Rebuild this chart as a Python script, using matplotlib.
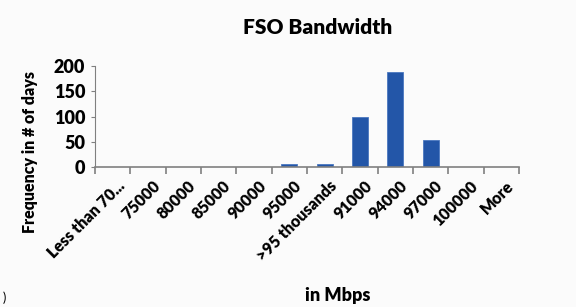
import matplotlib
matplotlib.use("Agg")
import matplotlib.pyplot as plt
from matplotlib.transforms import ScaledTranslation

categories = ["Less than 70...", "75000", "80000", "85000", "90000", "95000",
              ">95 thousands", "91000", "94000", "97000", "100000", "More"]
frequency = [0, 0, 0, 0, 0, 5, 5, 99, 188, 53, 0, 0]

plt.rcParams["font.family"] = ["Lato", "DejaVu Sans"]
plt.rcParams["font.weight"] = "heavy"

fig = plt.figure(figsize=(5.76, 3.07), dpi=100, facecolor="#fbfbfb")
ax = fig.add_axes([95 / 576, 1 - 167 / 307, (519 - 95) / 576, (167 - 66) / 307])
ax.set_facecolor("#fbfbfb")

x = list(range(len(categories)))
ax.bar(x, frequency, width=0.45, color="#2356a8", edgecolor="#4a78c0", linewidth=0.6)

ax.set_xlim(-0.5, len(categories) - 0.5)
ax.set_ylim(0, 200)
ax.set_yticks([0, 50, 100, 150, 200])
ax.tick_params(axis="y", labelsize=13, length=3, color="#808080", pad=4)
ax.set_xticks([i - 0.5 for i in range(len(categories) + 1)])
ax.set_xticklabels([])
ax.set_xticks(x, minor=True)
ax.set_xticklabels(categories, minor=True, rotation=45, ha="right",
                   rotation_mode="anchor", fontsize=11.5)
ax.tick_params(axis="x", which="major", length=5, color="#808080", width=1.2)
ax.tick_params(axis="x", which="minor", length=0, pad=8)
shift = ScaledTranslation(4 / 100, 0, fig.dpi_scale_trans)
for lbl in ax.get_xticklabels(minor=True):
    lbl.set_transform(lbl.get_transform() + shift)

for s in ["top", "right"]:
    ax.spines[s].set_visible(False)
ax.spines["left"].set_color("#808080")
ax.spines["bottom"].set_color("#808080")
ax.spines["bottom"].set_linewidth(1.2)

fig.text(318 / 576, 1 - 27 / 307, "FSO Bandwidth", ha="center", va="center",
         fontsize=15, fontweight="heavy")
fig.text(30 / 576, 1 - 152 / 307, "Frequency in # of days", rotation=90,
         ha="center", va="center", fontsize=11.5, fontweight="heavy")
fig.text(338 / 576, 1 - 296 / 307, "in Mbps", ha="center", va="center",
         fontsize=13, fontweight="heavy")
fig.text(3 / 576, 1 - 298 / 307, ")", ha="left", va="center", fontsize=9,
         fontweight="normal")

fig.savefig("out.png", dpi=100, facecolor=fig.get_facecolor())
